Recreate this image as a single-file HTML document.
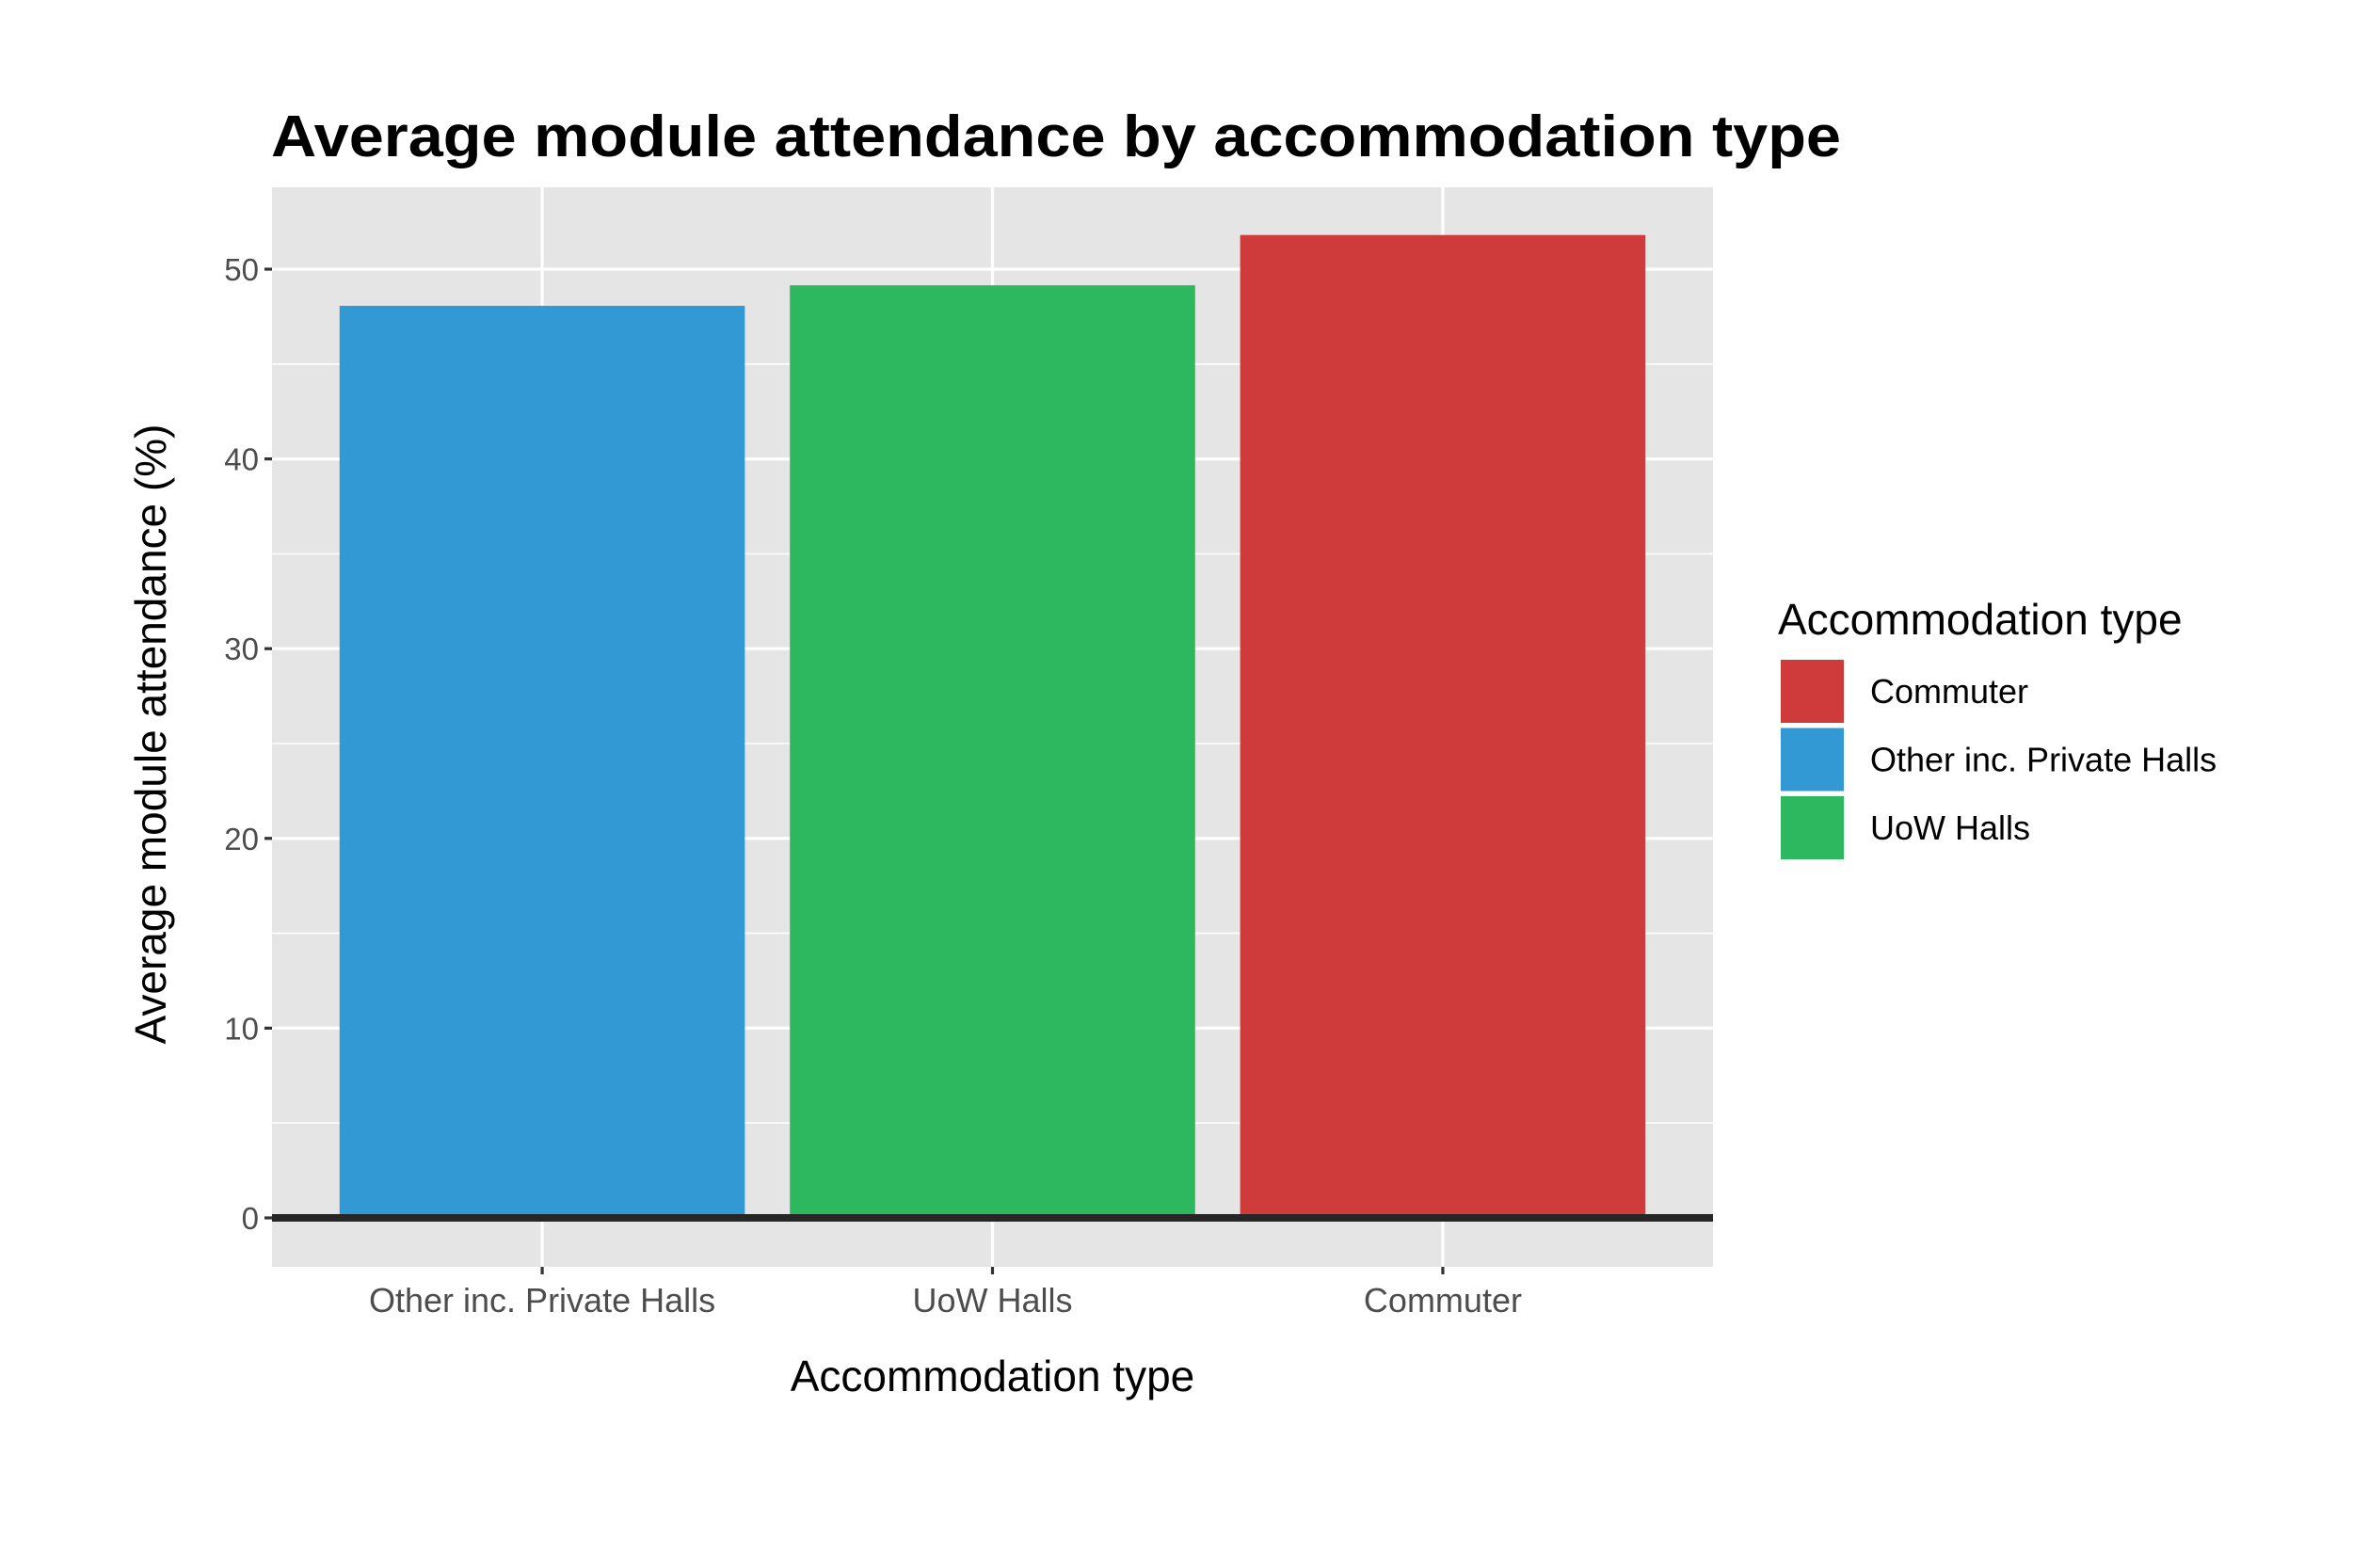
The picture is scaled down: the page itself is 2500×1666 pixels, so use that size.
<!DOCTYPE html>
<html><head><meta charset="utf-8"><style>
html,body{margin:0;padding:0;background:#fff;}
svg{display:block;font-family:"Liberation Sans",Arial,sans-serif;}
</style></head><body>
<svg id="chart" width="2500" height="1666" viewBox="0 0 2500 1666">
<rect x="0" y="0" width="2500" height="1666" fill="#fff"/>
<text x="288" y="166" font-size="62" font-weight="bold" fill="#000" textLength="1668" lengthAdjust="spacingAndGlyphs">Average module attendance by accommodation type</text>
<g id="panel"></g>
<g id="axes"></g>
<g id="legend"></g>
</svg>
<script>
const categories = ["Other inc. Private Halls", "UoW Halls", "Commuter"];
const values = [48.07, 49.15, 51.8];
const colors = ["#3399d4", "#2db860", "#cf3a3b"];
const yTicks = [0, 10, 20, 30, 40, 50];
const yMinor = [5, 15, 25, 35, 45];
const legendOrder = ["Commuter", "Other inc. Private Halls", "UoW Halls"];

const NS = "http://www.w3.org/2000/svg";
const PL = 289, PR = 1820, PT = 199, PB = 1346;
const Y0 = 1294, PX_PER = 20.16;
function y(v){ return Y0 - v * PX_PER; }
const band = (PR - PL) / 3.2;
function xc(i){ return PL + band * (0.6 + i); }
function mk(tag, attrs, parent){ const e = document.createElementNS(NS, tag); for (const k in attrs) e.setAttribute(k, attrs[k]); parent.appendChild(e); return e; }

const panel = document.getElementById('panel');
const axes = document.getElementById('axes');
const legend = document.getElementById('legend');

let bg = mk('rect', {x: PL, y: PT, width: PR - PL, height: PB - PT, fill: '#e5e5e5'}, panel);



yMinor.forEach(v => {
  const l = mk('line', {x1: PL, x2: PR, y1: y(v), y2: y(v), stroke: '#fff', 'stroke-width': 1.6}, panel);
  
  
});
yTicks.forEach(v => {
  const l = mk('line', {x1: PL, x2: PR, y1: y(v), y2: y(v), stroke: '#fff', 'stroke-width': 3.2}, panel);
  
  
  const t = mk('line', {x1: PL - 8, x2: PL, y1: y(v), y2: y(v), stroke: '#333', 'stroke-width': 3.2}, axes);
  
  
  const tx = mk('text', {x: PL - 14, y: y(v) + 12, 'font-size': 33, fill: '#4d4d4d', 'text-anchor': 'end'}, axes);
  tx.textContent = v;
  
  
});
categories.forEach((c, i) => {
  const l = mk('line', {x1: xc(i), x2: xc(i), y1: PT, y2: PB, stroke: '#fff', 'stroke-width': 3.2}, panel);
  
  
  const w = band * 0.9;
  const b = mk('rect', {x: xc(i) - w / 2, y: y(values[i]), width: w, height: y(0) - y(values[i]), fill: colors[i]}, panel);
  
  
  const t = mk('line', {x1: xc(i), x2: xc(i), y1: PB, y2: PB + 8, stroke: '#333', 'stroke-width': 3.2}, axes);
  
  
  const tx = mk('text', {x: xc(i), y: 1394, 'font-size': 36, fill: '#4d4d4d', 'text-anchor': 'middle'}, axes);
  tx.textContent = c;
  
  
});
const zl = mk('line', {x1: PL, x2: PR, y1: y(0), y2: y(0), stroke: '#262626', 'stroke-width': 8}, panel);



const xt = mk('text', {x: (PL + PR) / 2, y: 1478, 'font-size': 46, fill: '#000', 'text-anchor': 'middle'}, axes);
xt.textContent = 'Accommodation type';


const yt = mk('text', {x: 0, y: 0, 'font-size': 46, fill: '#000', 'text-anchor': 'middle', transform: 'translate(176,780) rotate(-90)'}, axes);
yt.textContent = 'Average module attendance (%)';



const lt = mk('text', {x: 1889, y: 674, 'font-size': 46, fill: '#000'}, legend);
lt.textContent = 'Accommodation type';


legendOrder.forEach((c, k) => {
  const i = categories.indexOf(c);
  const ky = 701 + k * 72.5;
  const r = mk('rect', {x: 1892, y: ky, width: 67, height: 67, fill: colors[i]}, legend);
  
  
  const t = mk('text', {x: 1987, y: ky + 46, 'font-size': 36, fill: '#000'}, legend);
  t.textContent = c;
  
  
});
</script>
</body></html>
